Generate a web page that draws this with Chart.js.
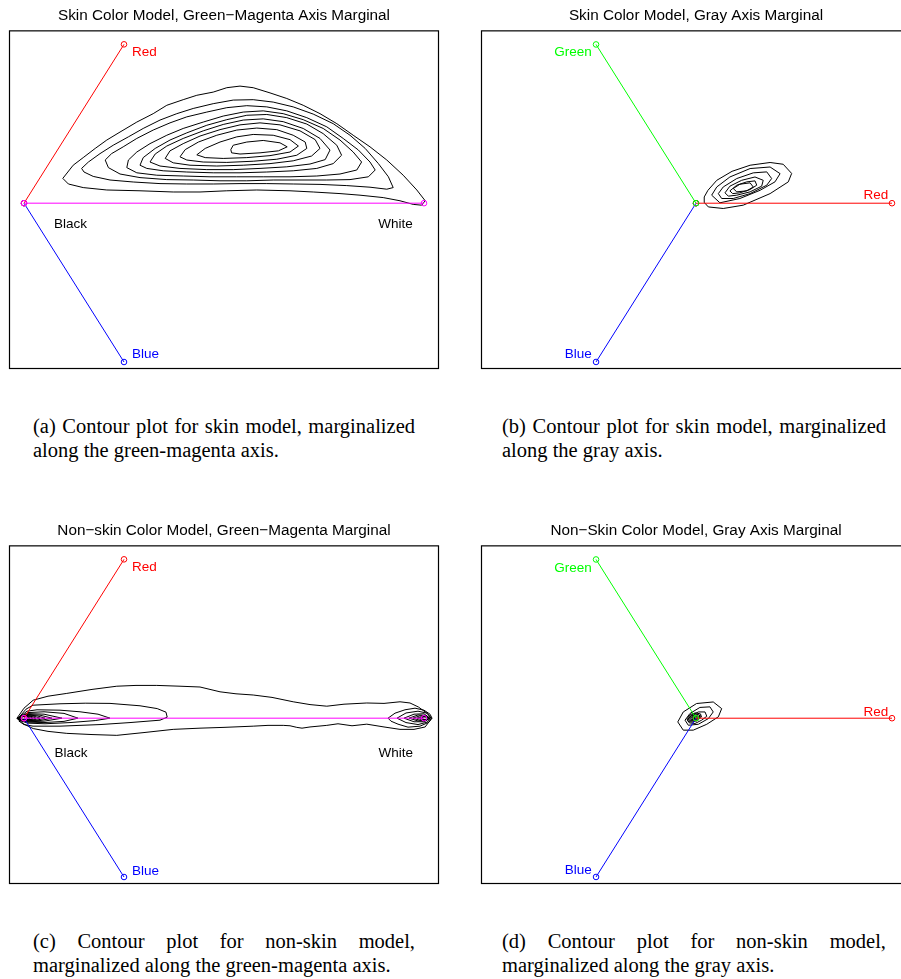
<!DOCTYPE html>
<html>
<head>
<meta charset="utf-8">
<title>Skin / non-skin colour model contours</title>
<script src="https://cdn.jsdelivr.net/npm/chart.js@4.4.1/dist/chart.umd.min.js"></script>
<style>
  html, body { margin: 0; padding: 0; background: #fff; overflow: hidden; }
  #page { position: relative; width: 901px; height: 979px; overflow: hidden; background: #fff; }
  #page canvas { position: absolute; }
  .cap { position: absolute; font-family: "Liberation Serif", "Times New Roman", Times, serif;
         font-size: 20.5px; line-height: 24px; color: #000; }
  .cap .j { text-align: justify; text-align-last: justify; }
</style>
</head>
<body>
<div id="page">
  <canvas id="panelA" width="450" height="380" style="left:0;top:0"></canvas>
  <canvas id="panelB" width="470" height="380" style="left:450px;top:0"></canvas>
  <canvas id="panelC" width="450" height="380" style="left:0;top:515px"></canvas>
  <canvas id="panelD" width="470" height="380" style="left:450px;top:515px"></canvas>

  <div class="cap" style="left:33px;top:414px;width:382px">
    <div class="j">(a) Contour plot for skin model, marginalized</div>
    <div>along the green-magenta axis.</div>
  </div>
  <div class="cap" style="left:502px;top:414px;width:384px">
    <div class="j">(b) Contour plot for skin model, marginalized</div>
    <div>along the gray axis.</div>
  </div>
  <div class="cap" style="left:33px;top:929px;width:382px">
    <div class="j">(c) Contour plot for non-skin model,</div>
    <div>marginalized along the green-magenta axis.</div>
  </div>
  <div class="cap" style="left:502px;top:929px;width:384px">
    <div class="j">(d) Contour plot for non-skin model,</div>
    <div>marginalized along the gray axis.</div>
  </div>
</div>

<script>
// ---------------------------------------------------------------------------
// Green-magenta view: plane through the gray axis, black = 0, white = 100.
// ---------------------------------------------------------------------------
const gmBlack = [0, 0];
const gmWhite = [100, 0];
const gmRed   = [25, 39.75];
const gmBlue  = [25, -39.75];

// Gray-axis view: plane perpendicular to the gray axis, red arm = 100.
const gaCenter = [0, 0];
const gaRed    = [100, 0];
const gaGreen  = [-51, 81.1];
const gaBlue   = [-51, -81.1];

const panelTitles = [
  "Skin Color Model, Green\u2212Magenta Axis Marginal",
  "Skin Color Model, Gray Axis Marginal",
  "Non\u2212skin Color Model, Green\u2212Magenta Marginal",
  "Non\u2212Skin Color Model, Gray Axis Marginal"
];

// Skin model, marginalised along green-magenta (outer to inner iso-lines)
const skinGM = [
  [[9.7,6.2],[12.3,9.5],[14.8,11.4],[17.8,13.7],[20.7,15.8],[24,17.8],[28.2,20.3],[32.3,22.4],[35.7,24.5],[39.8,25.9],[43.2,27],[47.3,27.8],[50.7,28.9],[54,29.3],[57.3,28.9],[61.5,27.6],[65.7,26.2],[69.8,24.5],[74,22.4],[78.2,19.9],[82.3,17],[86.5,14.1],[90.7,10.8],[94.8,7],[98.2,3.3],[100.3,0.6],[99.4,-0.5],[97.3,-0.3],[94,0.6],[89.8,1.4],[84,2],[79,2.4],[72.3,2.8],[66.5,3.1],[58.2,3.3],[50.7,3.1],[44,2.8],[37.3,2.8],[29,3.1],[20.7,3.3],[14.8,3.9],[11.1,4.8]],
  [[14.4,8.7],[16.1,10.3],[19,12.4],[22.3,14.5],[26.1,16.6],[29.8,18.7],[34,20.8],[38.2,22.4],[42.3,23.7],[47.3,24.9],[52.3,25.8],[57.3,25.9],[62.3,25.3],[67.3,24.1],[72.3,22.3],[77.3,19.9],[81.5,17],[85.3,13.7],[88.6,9.9],[91.1,6.6],[92.3,3.9],[90.7,3.5],[86.5,4],[80.7,4.4],[74,4.7],[67.3,4.8],[60.7,4.9],[54,4.9],[47.3,4.8],[40.7,4.8],[34,4.9],[27.3,5.3],[21.5,5.8],[17.3,6.7],[15,7.8]],
  [[20.3,10.8],[21.9,12.4],[24.8,14.1],[28.2,16.2],[32.3,18.3],[36.5,20.1],[40.7,21.6],[45.7,22.8],[50.7,23.9],[55.7,24.4],[60.7,24.1],[65.7,23.1],[70.7,21.4],[75.7,19.1],[79.8,16.2],[83.6,13.3],[86.5,10.3],[87.8,8.3],[86.1,6.6],[81.5,5.9],[75.7,5.8],[69,5.8],[62.3,5.8],[55.7,5.6],[49,5.6],[42.3,5.8],[35.7,5.9],[29,6.4],[24,7.3],[21.1,8.9]],
  [[25.7,8.9],[26.1,10.8],[28.2,12.8],[31.5,14.9],[35.7,17],[39.8,18.7],[44.8,20.3],[49.8,21.8],[54.8,22.8],[59.8,23.1],[64.8,22.4],[69.8,20.9],[74.8,18.7],[79,15.8],[82.3,12.8],[84.4,10.3],[83.2,8.3],[79,7.3],[73.2,6.8],[66.5,6.6],[59.8,6.6],[53.2,6.6],[46.5,6.6],[39.8,6.8],[33.2,7],[28.2,7.6]],
  [[29,9.5],[29.8,11.4],[32.8,13.7],[36.5,15.8],[40.7,17.6],[45.7,19.5],[50.7,20.9],[55.7,22],[60.7,22.2],[65.7,21.4],[70.7,19.8],[74.8,17.4],[78.2,14.5],[79.4,12],[77.3,9.9],[73.2,8.7],[67.3,8.1],[60.7,7.8],[54,7.6],[47.3,7.6],[40.7,7.8],[34.8,8.1],[30.7,8.7]],
  [[31.5,10.3],[32.8,12.3],[35.7,14.3],[39.8,16.2],[44.8,18.1],[49.8,19.7],[54.8,20.8],[59.8,21.1],[64.8,20.4],[69.8,18.7],[74,16.2],[76.5,13.3],[75.3,10.9],[71.5,9.8],[65.7,9.1],[59,8.7],[52.3,8.4],[45.7,8.4],[39,8.7],[34,9.3]],
  [[35.3,11.2],[36.5,13.1],[39.8,14.9],[44,16.8],[49,18.4],[54,19.6],[59,20.1],[64,19.6],[69,18.1],[72.8,15.9],[74,13.7],[71.9,11.8],[67.3,10.6],[61.5,9.9],[54.8,9.5],[48.2,9.3],[41.5,9.5],[37.3,10.1]],
  [[39,11.6],[40.3,13.4],[43.6,15.3],[48.2,17],[53.2,18.3],[58.2,18.8],[63.2,18.4],[67.3,17],[70.3,15.3],[70.7,13.7],[68.2,12],[63.2,11],[57.3,10.5],[50.7,10.2],[44.8,10.3],[40.7,10.8]],
  [[43.2,12.1],[45.3,13.7],[49,15.3],[53.2,16.6],[57.3,17.2],[62.3,17],[66.5,15.9],[68.6,14.3],[66.5,12.8],[61.5,11.9],[55.7,11.4],[49.8,11.2],[45.3,11.4]],
  [[51.7,13.4],[52.3,14.5],[55.7,15.3],[59.8,15.7],[64,15.1],[65.8,14.1],[63.6,13.1],[59,12.6],[54,12.3],[51.9,12.6]]
];

// Skin model, marginalised along the gray axis
const skinGray = [
  [[4.2,3.2],[6.1,6.6],[10.6,11.7],[18.4,16.3],[27.6,19.4],[37.8,20.8],[44.5,19.9],[48.8,15.2],[47.1,10.9],[37.8,4.9],[24.1,-1],[13.9,-2.7],[6.3,-1.9],[4.1,0.5]],
  [[8,4.1],[10.6,8.3],[17.3,13.4],[27.6,17.7],[37.8,18.5],[42.9,15.1],[40.3,10.9],[32.7,6.6],[22.4,2.4],[12.2,0.2]],
  [[11.4,4.9],[13.9,8.3],[20.8,12.6],[29.2,15.5],[36.1,16],[38.6,12.6],[36.1,9.2],[27.6,4.9],[19,2.4],[13.1,2.4]],
  [[14.8,5.3],[17.3,8.7],[23.3,11.7],[30.1,13.4],[34.3,11.7],[33.5,8.7],[27.6,5.8],[20.8,4.1],[16.5,3.6]],
  [[17.3,6.3],[20.8,9.2],[25.9,10.9],[30.1,11.4],[31,9.2],[27.6,7],[22.4,5.3],[18.7,4.9]],
  [[19,7.5],[22.4,9.7],[27.6,10.4],[29.2,8.3],[25.9,6.3],[20.8,5.8]]
];

// Non-skin model, green-magenta marginal: envelope, black-end and white-end lobes
const nonSkinGMOuter = [
  [[-1.75,0],[0,2.5],[2.3,4.5],[6,5.5],[10.7,6.2],[17,7.2],[23.2,8],[28,8.2],[33.2,8.2],[39,8],[44,7.8],[49,6.6],[53,6.1],[57.3,5.8],[62,5.2],[67.3,4.1],[71.5,3.4],[75.7,3],[80,3.5],[85.7,3.8],[90,3.7],[94,4.1],[96.5,3.8],[98.6,2.8],[100.8,1.2],[101.9,0],[100.3,-2.2],[97.5,-2.8],[94,-2.8],[90,-2.2],[85.7,-1.5],[82,-1.9],[78.5,-1.4],[75.7,-1.8],[71.5,-2.2],[69.5,-2.5],[68.2,-2.3],[66.5,-1.9],[64.8,-1.8],[61,-1.8],[57.3,-2],[50,-2.3],[44,-2.5],[37.3,-2.8],[30,-3.6],[23.2,-4.3],[17,-4.1],[10.7,-3.8],[6,-3.3],[2.3,-2.6],[0,-1.5]]
];
const nonSkinGMBlack = [
  [[-1,0.5],[0.5,2.25],[2.25,3.25],[9,3.6],[15.3,3.75],[21.5,3.7],[29,3.1],[33.3,2.4],[35.5,1.5],[35.8,0.25],[34,-0.5],[26.5,-1.1],[19,-1.6],[9,-2],[2.25,-2],[0,-1.6],[-1.25,-0.75]],
  [[-1,0.4],[0.75,1.75],[3.25,2.1],[9,2],[14,1.6],[18.5,1],[21.5,0],[17.8,-0.6],[11.5,-1.1],[5.25,-1.4],[1,-1.25],[-1,-0.6]],
  [[-1.25,0.25],[1,1.4],[5,1.6],[10,1.2],[13.5,0],[10,-0.8],[5,-1.1],[1,-1],[-1.25,-0.4]],
  [[-1.4,0.2],[1,1.15],[5,1],[9.5,0],[5,-0.75],[1,-0.9],[-1.4,-0.3]],
  [[-1.5,0.15],[1,0.95],[4,0.75],[7,0],[4,-0.6],[1,-0.75],[-1.5,-0.25]],
  [[-1.55,0.12],[0.8,0.8],[3.2,0.6],[5.25,0],[3.2,-0.5],[0.8,-0.65],[-1.55,-0.2]],
  [[-1.6,0.1],[0.6,0.7],[2.5,0.5],[4,0],[2.5,-0.4],[0.6,-0.55],[-1.6,-0.15]],
  [[-1.65,0.08],[0.4,0.6],[2,0.4],[3,0],[2,-0.3],[0.4,-0.45],[-1.65,-0.12]],
  [[-1.7,0.06],[0.2,0.5],[1.5,0.3],[2.25,0],[1.5,-0.25],[0.2,-0.38],[-1.7,-0.1]],
  [[-1.7,0.05],[0,0.4],[1,0.25],[1.5,0],[1,-0.2],[0,-0.3],[-1.7,-0.08]]
];
const nonSkinGMWhite = [
  [[91,0],[92.75,1.25],[95.25,2.1],[97.75,2.5],[100,2],[101.5,1],[102,0],[101.25,-1],[99,-2],[96,-2.25],[93.5,-1.5],[91.75,-0.75]],
  [[93.25,0],[95.5,1.3],[98.5,1.75],[100.75,1.25],[101.75,0],[100.75,-1],[98.5,-1.6],[95.5,-1.1]],
  [[95,0],[97.5,1],[100,1.1],[101.5,0],[100,-0.9],[97.5,-0.9]],
  [[96.25,0],[98.5,0.8],[100.5,0.7],[101.4,0],[100.5,-0.65],[98.5,-0.7]],
  [[97.25,0],[99,0.6],[100.6,0.5],[101.3,0],[100.6,-0.5],[99,-0.55]],
  [[98.25,0],[99.6,0.45],[100.7,0.35],[101.2,0],[100.7,-0.35],[99.6,-0.4]],
  [[99,0],[100,0.3],[100.8,0.25],[101.1,0],[100.8,-0.25],[100,-0.3]]
];

// Non-skin model, gray-axis marginal
const nonSkinGray = [
  [[-9.3,-1.9],[-6.5,3.2],[0.3,7.5],[8.8,8.3],[13.1,4.9],[11.4,0.7],[5.5,-3.1],[-1.4,-6.1],[-6.5,-6.1]],
  [[-5.6,-1],[-3.1,2.4],[2,5.5],[7.1,5.8],[8.8,3.2],[6.3,-0.2],[1.2,-3.1],[-3.9,-3.6]],
  [[-4.4,-0.7],[-2.2,1.5],[1.2,3.2],[4.6,3.2],[5.5,1],[2.9,-1],[-0.5,-2.7],[-3.4,-2.4]],
  [[-4.6,-0.3],[-3,1.9],[-0.3,2.7],[2.3,2.2],[2.8,0.6],[0.8,-1],[-1.8,-2],[-4,-1.7]],
  [[-4,-0.2],[-2.6,1.5],[-0.4,2.1],[1.6,1.7],[2,0.5],[0.4,-0.7],[-1.6,-1.5],[-3.4,-1.3]],
  [[-3.4,-0.1],[-2.2,1.2],[-0.6,1.6],[0.9,1.3],[1.3,0.4],[0,-0.5],[-1.5,-1.1],[-2.9,-1]],
  [[-2.8,0],[-1.9,0.9],[-0.8,1.2],[0.3,1],[0.6,0.3],[-0.3,-0.3],[-1.4,-0.7],[-2.4,-0.7]],
  [[-2.2,0.1],[-1.6,0.7],[-0.9,0.8],[-0.2,0.7],[0,0.3],[-0.6,-0.1],[-1.3,-0.4],[-1.9,-0.4]],
  [[-1.7,0.15],[-1.3,0.45],[-0.9,0.5],[-0.5,0.4],[-0.5,0.15],[-0.9,0],[-1.3,-0.15]]
];

// ---------------------------------------------------------------------------
const COLORS = { red: '#ff0000', blue: '#0000ff', green: '#00ff00', magenta: '#ff00ff', ink: '#000000' };
const SANS = '"Liberation Sans", Arial, Helvetica, sans-serif';

function contourSets(loops) {
  return loops.map(loop => ({
    data: loop.concat([loop[0]]).map(p => ({ x: p[0], y: p[1] })),
    showLine: true,
    borderColor: COLORS.ink,
    borderWidth: 1,
    pointRadius: 0,
    tension: 0,
    order: 1
  }));
}

function armSet(from, to, color) {
  return {
    data: [{ x: from[0], y: from[1] }, { x: to[0], y: to[1] }],
    showLine: true,
    borderColor: color,
    borderWidth: 1,
    pointStyle: 'circle',
    pointRadius: 2.8,
    pointBorderColor: color,
    pointBackgroundColor: 'rgba(0,0,0,0)',
    pointBorderWidth: 1,
    order: 0
  };
}

// Axes box plus the vertex labels, placed in data coordinates
const framePlugin = {
  id: 'frame',
  afterDraw(chart, args, opts) {
    const { ctx, chartArea: a } = chart;
    const sx = chart.scales.x, sy = chart.scales.y;
    ctx.save();
    ctx.strokeStyle = '#000';
    ctx.lineWidth = 1.2;
    ctx.strokeRect(a.left + 0.5, a.top + 0.5, a.right - a.left - 1, a.bottom - a.top - 1);
    ctx.font = '13.5px ' + SANS;
    ctx.textBaseline = 'middle';
    (opts.labels || []).forEach(l => {
      ctx.fillStyle = l.color;
      ctx.textAlign = l.align;
      ctx.fillText(l.text, sx.getPixelForValue(l.at[0]), sy.getPixelForValue(l.at[1]));
    });
    ctx.restore();
  }
};

function makePanel(id, title, xRange, yRange, pad, datasets, labels) {
  return new Chart(document.getElementById(id), {
    type: 'scatter',
    data: { datasets },
    options: {
      responsive: false,
      animation: false,
      devicePixelRatio: 1,
      events: [],
      layout: { padding: pad },
      scales: {
        x: { type: 'linear', min: xRange[0], max: xRange[1], display: false },
        y: { type: 'linear', min: yRange[0], max: yRange[1], display: false }
      },
      plugins: {
        legend: { display: false },
        tooltip: { enabled: false },
        title: {
          display: true, text: title, color: '#000',
          font: { family: SANS, size: 15.3, weight: 'normal' },
          padding: { top: 7, bottom: 5 }
        },
        frame: { labels }
      }
    },
    plugins: [framePlugin]
  });
}

const gmX = [-3.75, 103.75], gmY = [-41.5, 43.25];
const gaX = [-109.7, 109.7], gaY = [-84.7, 88.3];
const padLeft = { left: 9, right: 11, top: 0, bottom: 11 };
const padRight = { left: 31, right: 9, top: 0, bottom: 11 };

const gmArms = () => [
  armSet(gmBlack, gmWhite, COLORS.magenta),
  armSet(gmBlack, gmRed, COLORS.red),
  armSet(gmBlack, gmBlue, COLORS.blue)
];
const gaArms = () => [
  armSet(gaCenter, gaGreen, COLORS.green),
  armSet(gaCenter, gaRed, COLORS.red),
  armSet(gaCenter, gaBlue, COLORS.blue)
];

makePanel('panelA', panelTitles[0], gmX, gmY, padLeft,
  gmArms().concat(contourSets(skinGM)),
  [
    { text: 'Red',   at: [27, 37.75],  align: 'left',   color: COLORS.red },
    { text: 'Blue',  at: [27, -37.75], align: 'left',   color: COLORS.blue },
    { text: 'Black', at: [11.6, -5.25], align: 'center', color: COLORS.ink },
    { text: 'White', at: [92.9, -5.25], align: 'center', color: COLORS.ink }
  ]);

makePanel('panelB', panelTitles[1], gaX, gaY, padRight,
  gaArms().concat(contourSets(skinGray)),
  [
    { text: 'Green', at: [-53.2, 76.9], align: 'right', color: COLORS.green },
    { text: 'Red',   at: [98.1, 4.1],   align: 'right', color: COLORS.red },
    { text: 'Blue',  at: [-53.2, -77.2], align: 'right', color: COLORS.blue }
  ]);

makePanel('panelC', panelTitles[2], gmX, gmY, padLeft,
  gmArms().concat(contourSets(nonSkinGMOuter), contourSets(nonSkinGMBlack), contourSets(nonSkinGMWhite)),
  [
    { text: 'Red',   at: [27, 37.7],   align: 'left',   color: COLORS.red },
    { text: 'Blue',  at: [27, -38.2],  align: 'left',   color: COLORS.blue },
    { text: 'Black', at: [11.75, -8.8], align: 'center', color: COLORS.ink },
    { text: 'White', at: [92.95, -8.8], align: 'center', color: COLORS.ink }
  ]);

makePanel('panelD', panelTitles[3], gaX, gaY, padRight,
  gaArms().concat(contourSets(nonSkinGray)),
  [
    { text: 'Green', at: [-53.2, 76.7], align: 'right', color: COLORS.green },
    { text: 'Red',   at: [98.1, 3.2],   align: 'right', color: COLORS.red },
    { text: 'Blue',  at: [-53.2, -77.9], align: 'right', color: COLORS.blue }
  ]);
</script>
</body>
</html>
